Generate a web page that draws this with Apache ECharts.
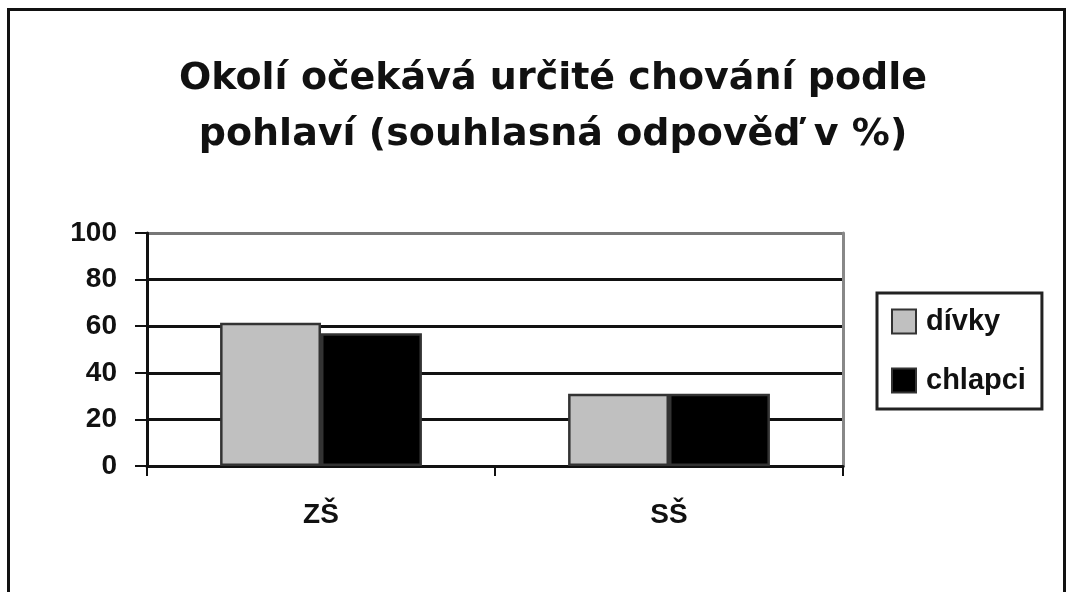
<!DOCTYPE html>
<html>
<head>
<meta charset="utf-8">
<script src="https://cdn.jsdelivr.net/npm/echarts@6/dist/echarts.min.js"></script>
<style>
html,body{margin:0;padding:0;background:#fff;}
#chart{width:1066px;height:592px;}
</style>
</head>
<body>
<div id="chart"></div>
<script>
const categories = ['ZŠ', 'SŠ'];
const divky = [61.5, 31];
const chlapci = [57, 31];
const seriesNames = ['dívky', 'chlapci'];
const titleText = 'Okolí očekává určité chování podle\npohlaví (souhlasná odpověď v %)';

const chart = echarts.init(document.getElementById('chart'));
const option = {
  backgroundColor: '#fff',
  animation: false,
  title: {
    text: titleText,
    left: 548, top: 46, textAlign: 'center',
    textStyle: {fontFamily: 'DejaVu Sans', fontWeight: 'bold', fontSize: 38, lineHeight: 56, color: '#111'}
  },
  graphic: [{
    type: 'rect', left: 6, top: 7, shape: {width: 1056, height: 600},
    style: {fill: 'none', stroke: '#111', lineWidth: 3}, silent: true
  }],
  legend: {
    orient: 'vertical', left: 877, top: 293,
    padding: [14, 16, 14, 14],
    itemGap: 30, itemWidth: 24, itemHeight: 24, icon: 'rect',
    borderColor: '#222', borderWidth: 3, backgroundColor: '#fff',
    textStyle: {fontFamily: 'Liberation Sans', fontWeight: 'bold', fontSize: 29, lineHeight: 26, color: '#111', padding: [0,0,0,5]},
    data: seriesNames
  },
  grid: {left: 147, right: 223, top: 233, bottom: 126},
  xAxis: {
    type: 'category', data: categories,
    axisLine: {lineStyle: {color: '#111', width: 3}},
    axisTick: {show: true, length: 10, lineStyle: {color: '#111', width: 2}},
    axisLabel: {fontFamily: 'Liberation Sans', fontWeight: 'bold', fontSize: 28, color: '#111', margin: 35},
    splitLine: {show: false}
  },
  yAxis: [{
    type: 'value', min: 0, max: 100, interval: 20,
    axisLine: {show: true, lineStyle: {color: '#111', width: 3}},
    axisTick: {show: true, length: 12, lineStyle: {color: '#111', width: 2}},
    axisLabel: {fontFamily: 'Liberation Sans', fontWeight: 'bold', fontSize: 28, color: '#111', margin: 30},
    splitLine: {show: true, lineStyle: {color: ['#111','#111','#111','#111','#111','#777'], width: 3}}
  }, {
    type: 'value', min: 0, max: 100, interval: 20, position: 'right',
    axisLine: {show: true, lineStyle: {color: '#888', width: 3}},
    axisTick: {show: false}, axisLabel: {show: false}, splitLine: {show: false}
  }],
  series: [{
    name: seriesNames[0], type: 'bar', data: divky, barGap: '0%', barCategoryGap: '42%',
    itemStyle: {color: '#c0c0c0', borderColor: '#333', borderWidth: 2.5}
  }, {
    name: seriesNames[1], type: 'bar', data: chlapci, barGap: '0%', barCategoryGap: '42%',
    itemStyle: {color: '#000', borderColor: '#333', borderWidth: 2.5}
  }]
};
chart.setOption(option);
</script>
</body>
</html>
